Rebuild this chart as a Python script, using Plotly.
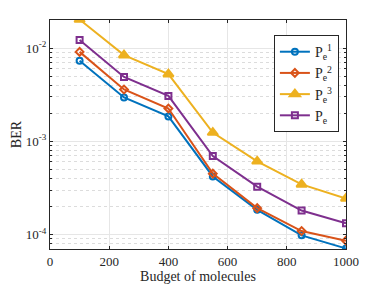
import plotly.graph_objects as go

budget = [100, 250, 400, 550, 700, 850, 1000]
pe1 = [7.3e-3, 2.95e-3, 1.85e-3, 4.2e-4, 1.84e-4, 9.8e-5, 7.1e-5]
pe2 = [9.1e-3, 3.6e-3, 2.25e-3, 4.5e-4, 1.92e-4, 1.09e-4, 8.6e-5]
pe3 = [2.02e-2, 8.4e-3, 5.25e-3, 1.24e-3, 6.1e-4, 3.45e-4, 2.44e-4]
pe = [1.22e-2, 4.9e-3, 3.07e-3, 6.95e-4, 3.26e-4, 1.81e-4, 1.32e-4]

names = ["P<sub>e</sub><sup>1</sup>", "P<sub>e</sub><sup>2</sup>",
         "P<sub>e</sub><sup>3</sup>", "P<sub>e</sub>"]
colors = ["#0072BD", "#D95319", "#EDB120", "#7E2F8E"]
symbols = ["circle-open", "diamond-open", "triangle-up", "square-open"]
series = [pe1, pe2, pe3, pe]

fig = go.Figure()
for s, n, c, m in zip(series, names, colors, symbols):
    fig.add_trace(go.Scatter(
        x=budget, y=s, name=n, mode="lines+markers",
        line=dict(color=c, width=2),
        marker=dict(symbol=m, size=6 if m != "triangle-up" else 9, color=c,
                    line=dict(color=c, width=2)),
    ))

font = "Liberation Serif"
fig.update_layout(
    width=383, height=287,
    margin=dict(l=50, r=37, t=20, b=38),
    paper_bgcolor="white", plot_bgcolor="white",
    font=dict(family=font, size=13, color="#262626"),
    showlegend=True,
    legend=dict(x=0.976, y=0.934, xanchor="right", yanchor="top",
                bgcolor="white", bordercolor="#262626", borderwidth=1,
                font=dict(family=font, size=14), tracegroupgap=0,
                itemwidth=30),
    xaxis=dict(
        range=[0, 1000], tickvals=[0, 200, 400, 600, 800, 1000],
        ticks="inside", ticklen=3, tickcolor="#262626",
        showline=True, linecolor="#262626", linewidth=1, mirror="ticks",
        showgrid=True, gridcolor="#e6e6e6", zeroline=False, automargin=False,
        title=dict(text="Budget of molecules", standoff=3,
                   font=dict(family=font, size=14)),
        tickfont=dict(family=font, size=13),
    ),
    yaxis=dict(
        type="log", range=[-4.155, -1.699],
        tickvals=[1e-4, 1e-3, 1e-2],
        ticktext=["10<sup>-4</sup>", "10<sup>-3</sup>", "10<sup>-2</sup>"],
        ticks="inside", ticklen=3, tickcolor="#262626",
        showline=True, linecolor="#262626", linewidth=1, mirror="ticks",
        showgrid=True, gridcolor="#e6e6e6", zeroline=False, automargin=False,
        minor=dict(showgrid=True, gridcolor="#dcdcdc", griddash="dot",
                   ticks="inside", ticklen=2, tickcolor="#262626",
                   tickvals=[k * 10 ** e for e in (-5, -4, -3, -2) for k in range(2, 10)]),
        title=dict(text="BER", standoff=0, font=dict(family=font, size=14)),
        tickfont=dict(family=font, size=13),
    ),
)

fig.write_html("out.html", config={"displayModeBar": False},
               post_script="document.body.style.margin='0';")
